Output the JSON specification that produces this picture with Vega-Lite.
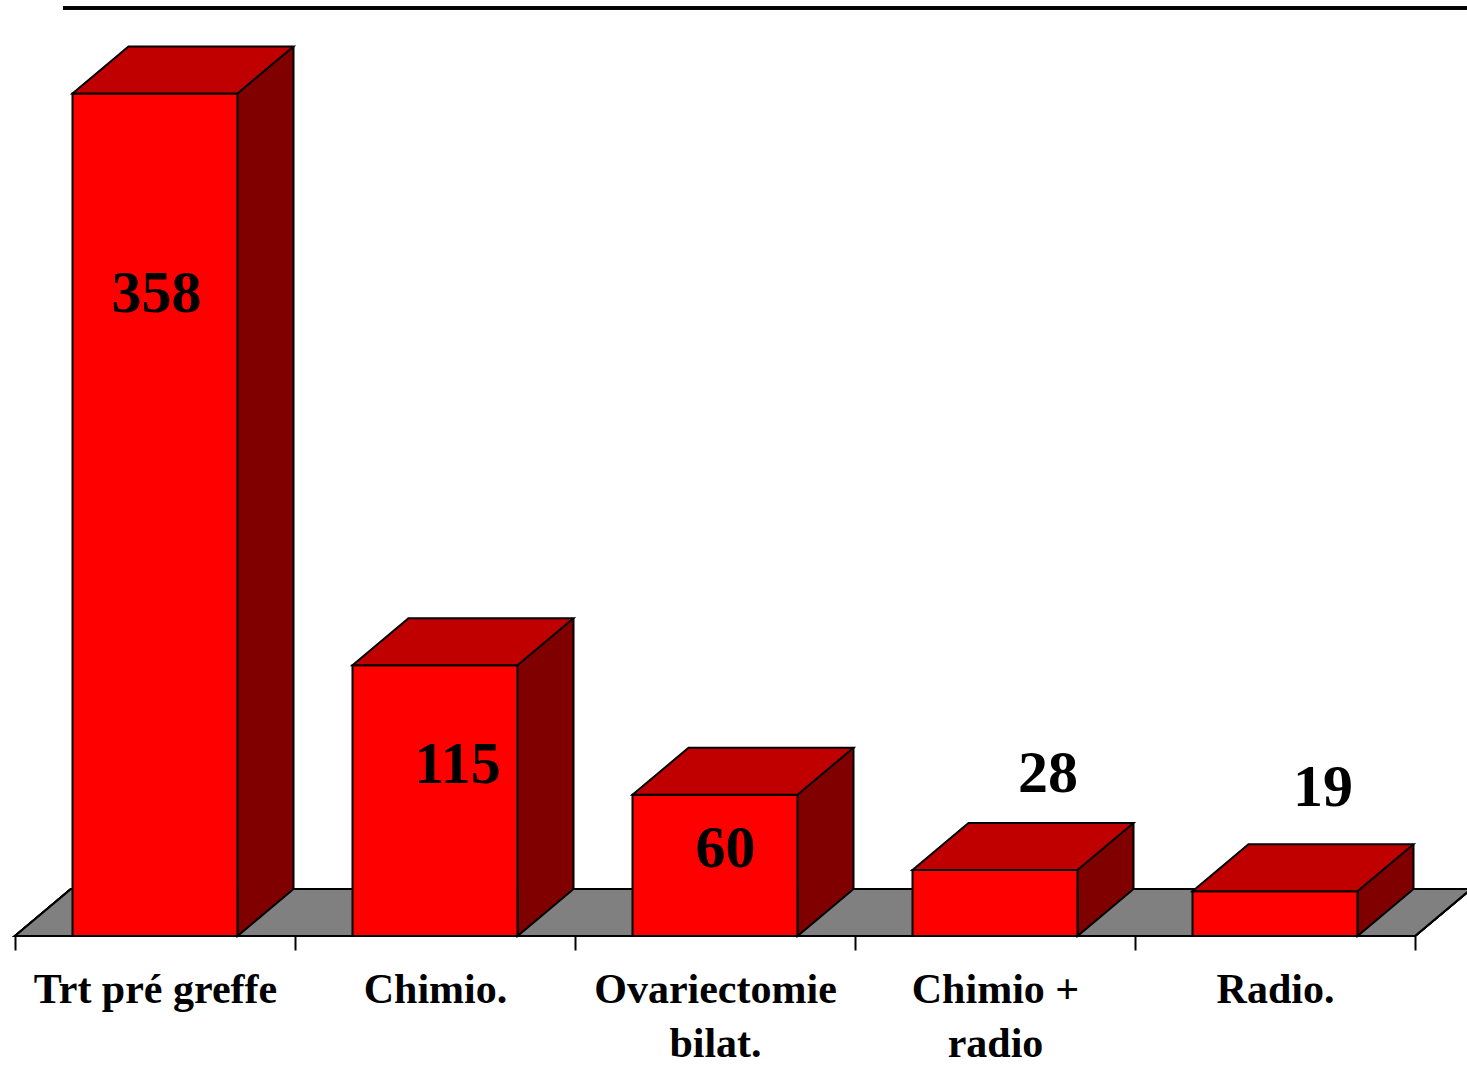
{
  "$schema": "https://vega.github.io/schema/vega-lite/v6.json",
  "autosize": {"type": "none"},
  "padding": {"left": 15, "top": 8, "right": 52, "bottom": 131},
  "width": 1400,
  "height": 928,
  "background": "white",
  "config": {"view": {"stroke": null}},
  "data": {
    "values": [
      {"category": "Trt pré greffe", "value": 358},
      {"category": "Chimio.", "value": 115},
      {"category": "Ovariectomie bilat.", "value": 60},
      {"category": "Chimio + radio", "value": 28},
      {"category": "Radio.", "value": 19}
    ]
  },
  "layer": [
    {
      "mark": {"type": "rule", "strokeWidth": 3, "color": "black", "xOffset": 48, "x2Offset": 52},
      "encoding": {
        "x": {"datum": "Trt pré greffe", "type": "nominal", "bandPosition": 0},
        "x2": {"datum": "Radio.", "bandPosition": 1},
        "y": {"datum": 394.3, "type": "quantitative", "axis": null}
      }
    },
    {
      "mark": {"type": "point", "shape": "M0,0 L1400,0 L1456,-47 L56,-47 Z", "size": 4, "filled": true, "fill": "#808080", "stroke": "black", "strokeWidth": 2, "opacity": 1},
      "encoding": {
        "x": {"datum": "Trt pré greffe", "type": "nominal", "bandPosition": 0},
        "y": {"datum": 0, "type": "quantitative", "axis": null}
      }
    },
    {
      "mark": {"type": "bar", "width": 56, "xOffset": 110.5, "yOffset": -47, "y2Offset": -47, "fill": "#800000", "strokeWidth": 0},
      "encoding": {
        "x": {"field": "category", "type": "nominal", "sort": null},
        "y": {"field": "value", "type": "quantitative", "axis": null},
        "y2": {"datum": 0}
      }
    },
    {
      "mark": {"type": "point", "shape": "M0,-47 L0,0 L56,-47", "size": 4, "filled": true, "fill": "#800000", "stroke": "black", "strokeWidth": 2, "opacity": 1, "xOffset": 82.5},
      "encoding": {
        "x": {"field": "category", "type": "nominal", "sort": null},
        "y": {"datum": 0, "type": "quantitative", "axis": null}
      }
    },
    {
      "mark": {"type": "rule", "strokeWidth": 2, "color": "black", "xOffset": 138.5, "yOffset": -47, "y2Offset": -47},
      "encoding": {
        "x": {"field": "category", "type": "nominal", "sort": null},
        "y": {"field": "value", "type": "quantitative", "axis": null},
        "y2": {"datum": 0}
      }
    },
    {
      "mark": {"type": "bar", "width": 165, "fill": "#FF0000", "stroke": "black", "strokeWidth": 2},
      "encoding": {
        "x": {
          "field": "category",
          "type": "nominal",
          "sort": null,
          "scale": {"domain": ["Trt pré greffe", "Chimio.", "Ovariectomie bilat.", "Chimio + radio", "Radio."], "paddingInner": 0, "paddingOuter": 0},
          "axis": {
            "title": null,
            "domain": false,
            "tickBand": "extent",
            "tickSize": 14,
            "tickWidth": 2,
            "tickColor": "black",
            "labelAngle": 0,
            "labelAlign": "center",
            "labelFont": "Liberation Serif",
            "labelFontWeight": "bold",
            "labelFontSize": 42,
            "labelColor": "black",
            "labelBaseline": "alphabetic",
            "labelPadding": 52,
            "labelLineHeight": 54,
            "labelLimit": 500,
            "labelExpr": "datum.label == 'Ovariectomie bilat.' ? ['Ovariectomie', 'bilat.'] : datum.label == 'Chimio + radio' ? ['Chimio +', 'radio'] : datum.label"
          }
        },
        "y": {"field": "value", "type": "quantitative", "axis": null, "scale": {"domain": [0, 394.3], "nice": false, "zero": true}},
        "y2": {"datum": 0}
      }
    },
    {
      "mark": {"type": "point", "shape": "M0,0 L56,-47 L221,-47 L165,0 Z", "size": 4, "filled": true, "fill": "#C00000", "stroke": "black", "strokeWidth": 2, "opacity": 1, "xOffset": -82.5},
      "encoding": {
        "x": {"field": "category", "type": "nominal", "sort": null},
        "y": {"field": "value", "type": "quantitative", "axis": null}
      }
    },
    {
      "mark": {
        "type": "text",
        "font": "Liberation Serif",
        "fontWeight": "bold",
        "fontSize": 60,
        "color": "black",
        "align": "center",
        "baseline": "alphabetic",
        "dx": {"expr": "datum.value > 300 ? 1.5 : datum.value > 100 ? 22.5 : datum.value > 50 ? 10.5 : datum.value > 20 ? 53 : 48"},
        "dy": {"expr": "datum.value > 300 ? 218.5 : datum.value > 100 ? 117.6 : datum.value > 50 ? 72 : datum.value > 20 ? -78 : -85"}
      },
      "encoding": {
        "x": {"field": "category", "type": "nominal", "sort": null},
        "y": {"field": "value", "type": "quantitative", "axis": null},
        "text": {"field": "value", "type": "quantitative"}
      }
    }
  ]
}
